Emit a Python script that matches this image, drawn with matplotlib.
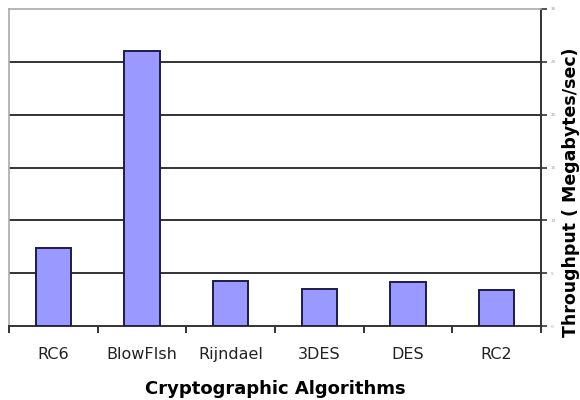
import numpy as np
import matplotlib
matplotlib.use('Agg')
import matplotlib.pyplot as plt
from matplotlib import rcParams

# throughput per algorithm (MB/sec)
algorithms = ['RC6', 'BlowFIsh', 'Rijndael', '3DES', 'DES', 'RC2']
throughput = [7.4, 26.0, 4.3, 3.5, 4.2, 3.4]
y_ticks = [0, 5, 10, 15, 20, 25, 30]

BAR_COLOR = '#9999ff'
EDGE_COLOR = '#1c1c4c'

rcParams['font.family'] = 'DejaVu Sans'

fig = plt.figure(figsize=(5.8, 4.0), dpi=100)
ax = fig.add_axes([9/580, 1 - 326/400, (541 - 9)/580, (326 - 9)/400])

x = np.arange(len(algorithms))
ax.bar(x, throughput, width=0.4, color=BAR_COLOR, edgecolor=EDGE_COLOR,
       linewidth=1.4, zorder=3)

ax.set_xlim(-0.5, len(algorithms) - 0.5)
ax.set_ylim(0, 30)

# horizontal grid lines, plot border is light grey
for v in y_ticks[1:-1]:
    ax.axhline(v, color='#333333', linewidth=1.4, zorder=1)
for side in ['top', 'left']:
    ax.spines[side].set_color('#aaaaaa')
    ax.spines[side].set_linewidth(1.2)
for side in ['bottom', 'right']:
    ax.spines[side].set_color('#333333')
    ax.spines[side].set_linewidth(1.4)

# category boundary ticks, labels sit in between
ax.set_xticks(np.arange(len(algorithms) + 1) - 0.5)
ax.set_xticklabels([])
ax.set_xticks(x, minor=True)
ax.set_xticklabels(algorithms, minor=True, fontsize=11.5, color='#222222')
ax.tick_params(axis='x', which='major', direction='out', length=5,
               width=1.4, color='#333333')
ax.tick_params(axis='x', which='minor', length=0, pad=15)

ax.yaxis.tick_right()
ax.set_yticks(y_ticks)
ax.set_yticklabels([str(v) for v in y_ticks], fontsize=3, color='#999999')
ax.tick_params(axis='y', direction='out', length=4, width=1.2,
               color='#333333', pad=3)

ax.set_xlabel('Cryptographic Algorithms', fontsize=13, fontweight='bold',
              labelpad=13)
ax.yaxis.set_label_position('right')
ax.set_ylabel('Throughput ( Megabytes/sec)', fontsize=12.5, fontweight='bold')
ax.yaxis.set_label_coords(1.039, 0.423)

plt.savefig('out.png', dpi=100)
